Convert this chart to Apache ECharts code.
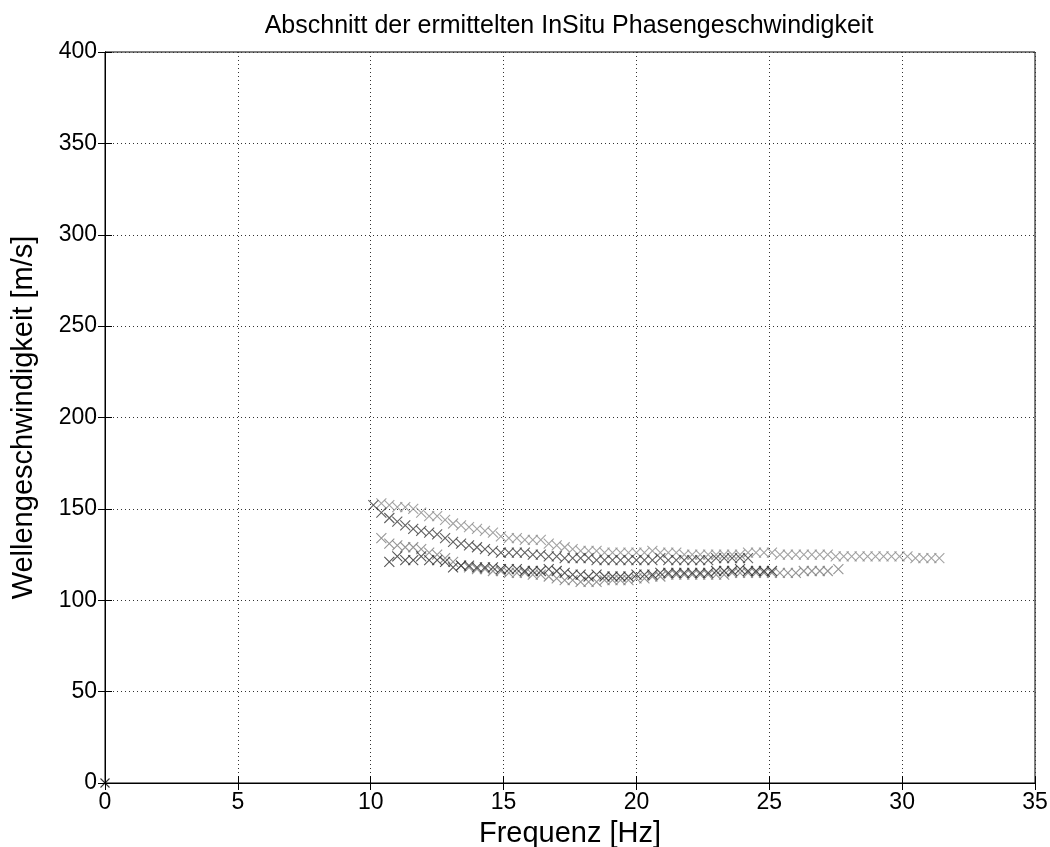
<!DOCTYPE html>
<html>
<head>
<meta charset="utf-8">
<script src="https://cdn.jsdelivr.net/npm/echarts@6/dist/echarts.min.js"></script>
<style>html,body{margin:0;padding:0;background:#fff}#c{width:1050px;height:847px}</style>
</head>
<body>
<div id="c"></div>
<script>
const titleText = 'Abschnitt der ermittelten InSitu Phasengeschwindigkeit';
const xName = 'Frequenz [Hz]';
const yName = 'Wellengeschwindigkeit [m/s]';
const xTicks = [0, 5, 10, 15, 20, 25, 30, 35];
const yTicks = [0, 50, 100, 150, 200, 250, 300, 350, 400];

const f1 = [10.4,10.7,11.0,11.3,11.6,11.9,12.2,12.5,12.8,13.1,13.4,13.7,14.0,14.3,14.6,14.9,15.2,15.5,15.8,16.1,16.4,16.7,17.0,17.3,17.6,17.9,18.2,18.5,18.8,19.1,19.4,19.7,20.0,20.3,20.6,20.9,21.2,21.5,21.8,22.1,22.4,22.7,23.0,23.3,23.6,23.9,24.2,24.5,24.8,25.1,25.4,25.7,26.0,26.3,26.6,26.9,27.2,27.5,27.8,28.1,28.4,28.7,29.0,29.3,29.6,29.9,30.2,30.5,30.8,31.1,31.4];
const v1 = [153,152,151,151,150,148,146,146,144,142,141,140,139,138,137,135,134,134,133,133,133,131,130,129,128,127,127,127,126,126,126,126,126,126,127,126,126,126,125,125,125,125,125,125,125,125,126,126,126,126,125,125,125,125,125,125,125,124,124,124,124,124,124,124,124,124,124,123,123,123,123];

const f2 = [10.1,10.4,10.7,11.0,11.3,11.6,11.9,12.2,12.5,12.8,13.1,13.4,13.7,14.0,14.3,14.6,14.9,15.2,15.5,15.8,16.1,16.4,16.7,17.0,17.3,17.6,17.9,18.2,18.5,18.8,19.1,19.4,19.7,20.0,20.3,20.6,20.9,21.2,21.5,21.8,22.1,22.4,22.7,23.0,23.3,23.6,23.9,24.2];
const v2 = [152,148,145,143,141,139,138,137,136,134,132,131,130,129,128,127,126,126,126,126,125,125,124,124,123,123,123,123,122,122,122,122,122,122,122,122,123,122,122,122,122,122,122,123,123,123,123,123];

const f3 = [10.4,10.7,11.0,11.3,11.6,11.9,12.2,12.5,12.8,13.1,13.4,13.7,14.0,14.3,14.6,14.9,15.2,15.5,15.8,16.1,16.4,16.7,17.0,17.3,17.6,17.9,18.2,18.5,18.8,19.1,19.4,19.7,20.0,20.3,20.6,20.9,21.2,21.5,21.8,22.1,22.4,22.7,23.0,23.3,23.6,23.9,24.2,24.5,24.8,25.1,25.4,25.7,26.0,26.3,26.6,26.9,27.2,27.6];
const v3 = [134,131,130,129,129,128,126,125,123,121,119,118,117,117,116,116,115,115,115,114,114,113,112,111,111,110,110,110,111,111,111,111,112,112,113,113,114,114,114,114,114,114,114,114,115,115,115,115,115,115,115,115,115,116,116,116,116,117];

const f4 = [10.7,11.0,11.3,11.6,11.9,12.2,12.5,12.8,13.1,13.4,13.7,14.0,14.3,14.6,14.9,15.2,15.5,15.8,16.1,16.4,16.7,17.0,17.3,17.6,17.9,18.2,18.5,18.8,19.1,19.4,19.7,20.0,20.3,20.6,20.9,21.2,21.5,21.8,22.1,22.4,22.7,23.0,23.3,23.6,23.9,24.2,24.5,24.8,25.1];
const v4 = [121,124,122,122,124,122,122,121,118,119,119,118,118,118,117,117,117,116,116,116,117,116,115,114,114,113,114,113,113,113,113,114,114,114,115,115,115,115,115,115,115,116,116,116,117,116,116,116,116];

const f0 = [0];
const v0 = [0];

const pair = (f, v) => f.map((x, i) => [x, v[i]]);
const cross = 'path://M0,0L10,10M10,0L0,10';
const mk = (f, v, col, size) => ({
  type: 'scatter',
  data: pair(f, v),
  symbol: cross,
  symbolSize: size,
  itemStyle: { color: 'transparent', borderColor: col, borderWidth: 1.1 },
  silent: true,
  animation: false
});

const font = 'Liberation Sans, Arial, sans-serif';
const tickSec = { show: true, inside: true, length: 7, lineStyle: { color: '#000', width: 1 } };
const chart = echarts.init(document.getElementById('c'), null, { renderer: 'canvas' });
chart.setOption({
  animation: false,
  backgroundColor: '#fff',
  grid: { left: 105, top: 52, right: 15, bottom: 64, show: true, borderColor: '#000', borderWidth: 1, backgroundColor: 'transparent', outerBoundsMode: 'none', containLabel: false },
  graphic: [{
    type: 'text', x: 569, y: 26,
    style: { text: titleText, font: '25px ' + font, fill: '#000', textAlign: 'center', textVerticalAlign: 'middle' }
  }],
  xAxis: [{
    type: 'value', min: 0, max: 35, interval: 5,
    name: xName, nameLocation: 'middle', nameGap: 36,
    nameTextStyle: { fontFamily: font, fontSize: 29, color: '#000' },
    axisLine: { show: true, lineStyle: { color: '#000', width: 1 } },
    axisTick: { show: false },
    axisLabel: { fontFamily: font, fontSize: 23, color: '#000', margin: 8, formatter: v => xTicks.includes(v) ? String(v) : '' },
    splitLine: { show: true, lineStyle: { color: '#333', type: [1, 3], width: 1 } }
  }, {
    type: 'value', min: 0, max: 35, interval: 5, position: 'top',
    axisLine: { show: true, lineStyle: { color: '#000' } },
    axisTick: tickSec,
    axisLabel: { show: false }, splitLine: { show: false }
  }, {
    type: 'value', min: 0, max: 35, interval: 5, position: 'bottom',
    axisLine: { show: false },
    axisTick: tickSec,
    axisLabel: { show: false }, splitLine: { show: false }
  }],
  yAxis: [{
    type: 'value', min: 0, max: 400, interval: 50,
    name: yName, nameLocation: 'middle', nameGap: 67,
    nameTextStyle: { fontFamily: font, fontSize: 29, color: '#000' },
    axisLine: { show: true, lineStyle: { color: '#000', width: 1 } },
    axisTick: { show: false },
    axisLabel: { fontFamily: font, fontSize: 23, color: '#000', margin: 8, formatter: v => yTicks.includes(v) ? String(v) : '' },
    splitLine: { show: true, lineStyle: { color: '#333', type: [1, 3], width: 1 } }
  }, {
    type: 'value', min: 0, max: 400, interval: 50, position: 'right',
    axisLine: { show: true, lineStyle: { color: '#000' } },
    axisTick: tickSec,
    axisLabel: { show: false }, splitLine: { show: false }
  }, {
    type: 'value', min: 0, max: 400, interval: 50, position: 'left',
    axisLine: { show: false },
    axisTick: tickSec,
    axisLabel: { show: false }, splitLine: { show: false }
  }],
  series: [
    mk(f1, v1, '#8c8c8c', 10),
    mk(f3, v3, '#7a7a7a', 10),
    mk(f2, v2, '#3a3a3a', 10),
    mk(f4, v4, '#2a2a2a', 10),
    mk(f0, v0, '#000', 9)
  ]
});
</script>
</body>
</html>
